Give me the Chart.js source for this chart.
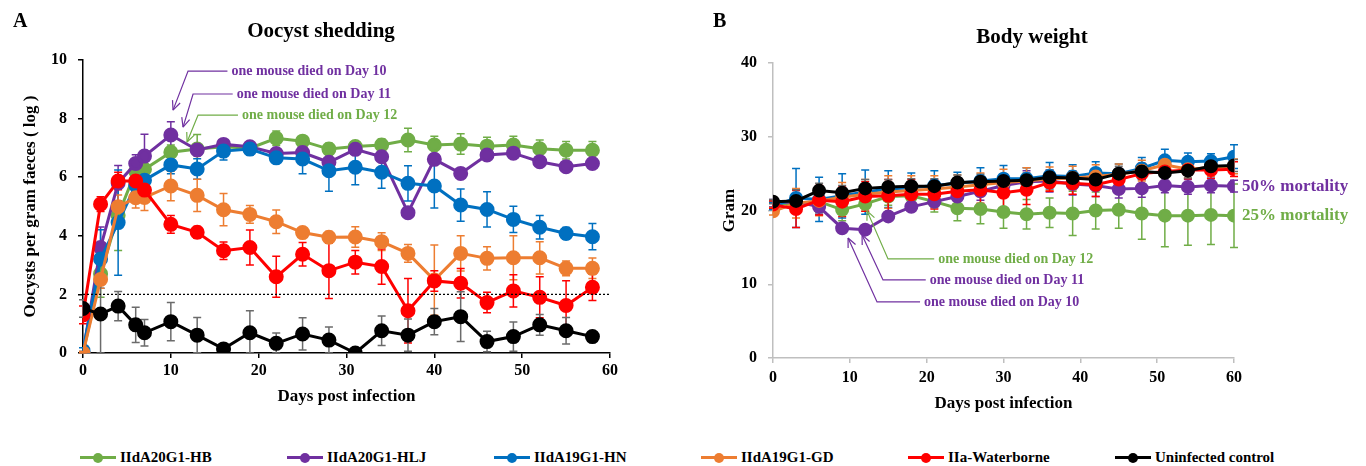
<!DOCTYPE html>
<html>
<head>
<meta charset="utf-8">
<script src="https://cdn.jsdelivr.net/npm/chart.js@4.4.1/dist/chart.umd.min.js"></script>
<style>
  html, body { margin: 0; padding: 0; background: #fff; }
  #wrap { position: relative; width: 1366px; height: 466px; overflow: hidden; font-family: "Liberation Serif", "Times New Roman", serif; }
  #cA { position: absolute; left: 0; top: 0; }
  #cB { position: absolute; left: 690px; top: 0; }
  #legend { position: absolute; left: 80px; top: 449px; display: flex; }
  .item { width: 207px; display: flex; align-items: center; font-weight: bold; font-size: 15px; color: #000; }
  .mk { position: relative; width: 36px; height: 12px; margin-right: 4px; }
  .mk .ln { position: absolute; left: 0; right: 0; top: 4.5px; height: 3px; }
  .mk .dt { position: absolute; left: 13px; top: 1px; width: 10px; height: 10px; border-radius: 50%; }
</style>
</head>
<body>
<div id="wrap">
  <canvas id="cA" width="690" height="430"></canvas>
  <canvas id="cB" width="676" height="430"></canvas>
  <div id="legend"></div>
</div>
<script>
(function () {
  // ---- data: panel A (oocyst shedding, log OPG) ----
  var DAYS_A = [0, 2, 4, 6, 7, 10, 13, 16, 19, 22, 25, 28, 31, 34, 37, 40, 43, 46, 49, 52, 55, 58];
  var HB_A = [0, 2.7, 4.7, 6.2, 6.27, 6.85, 6.96, 7.04, 6.99, 7.33, 7.23, 6.96, 7.05, 7.1, 7.27, 7.1, 7.13, 7.06, 7.1, 6.97, 6.92, 6.92];
  var HB_A_ERR = [0.05, 0.8, 1.2, 0.3, 0.3, 0.25, 0.5, 0.15, 0.15, 0.25, 0.1, 0.2, 0.1, 0.2, 0.4, 0.3, 0.35, 0.3, 0.3, 0.3, 0.3, 0.3];
  var HLJ_A = [0, 3.6, 5.8, 6.47, 6.72, 7.44, 6.93, 7.12, 7.04, 6.81, 6.84, 6.51, 6.95, 6.7, 4.79, 6.61, 6.13, 6.76, 6.82, 6.53, 6.36, 6.47];
  var HLJ_A_ERR = [0.05, 0.7, 0.6, 0.3, 0.75, 0.45, 0.2, 0.1, 0.1, 0.1, 0.1, 0.15, 0.1, 0.1, 0.05, 0.1, 0.1, 0.1, 0.1, 0.1, 0.1, 0.1];
  var HN_A = [0.08, 3.21, 4.45, 5.73, 5.9, 6.42, 6.28, 6.89, 6.96, 6.66, 6.62, 6.22, 6.34, 6.17, 5.79, 5.7, 5.05, 4.9, 4.56, 4.29, 4.08, 3.97];
  var HN_A_ERR = [0.1, 1.0, 1.8, 0.3, 0.3, 0.3, 0.35, 0.3, 0.2, 0.15, 0.5, 0.7, 0.6, 0.55, 0.6, 0.75, 0.55, 0.6, 0.45, 0.4, 0.2, 0.45];
  var GD_A = [0, 2.51, 4.99, 5.3, 5.31, 5.7, 5.38, 4.89, 4.73, 4.48, 4.11, 3.95, 3.96, 3.8, 3.4, 2.49, 3.4, 3.23, 3.25, 3.25, 2.89, 2.89];
  var GD_A_ERR = [0.05, 0.3, 0.4, 0.35, 0.45, 0.5, 0.55, 0.55, 0.3, 0.4, 0.1, 0.2, 0.35, 0.3, 0.3, 1.2, 0.6, 0.4, 0.75, 0.55, 0.25, 0.35];
  var WB_A = [1.3, 5.08, 5.87, 5.87, 5.56, 4.39, 4.12, 3.49, 3.6, 2.6, 3.37, 2.81, 3.1, 2.95, 1.44, 2.46, 2.38, 1.72, 2.12, 1.9, 1.62, 2.24];
  var WB_A_ERR = [0.3, 0.25, 0.3, 0.3, 0.35, 0.3, 0.2, 0.3, 0.6, 0.7, 0.4, 0.95, 0.4, 0.6, 1.1, 0.35, 0.5, 0.35, 0.55, 0.7, 0.85, 0.45];
  var CTRL_A = [1.52, 1.33, 1.6, 0.96, 0.69, 1.07, 0.61, 0.14, 0.69, 0.33, 0.65, 0.44, 0.0, 0.76, 0.61, 1.07, 1.24, 0.39, 0.56, 0.96, 0.76, 0.56];
  var CTRL_A_ERR = [0.3, 1.4, 0.5, 0.6, 0.45, 0.65, 0.6, 0.05, 0.75, 0.35, 0.55, 0.45, 0, 0.5, 0.55, 0.45, 0.85, 0.35, 0.5, 0.35, 0.45, 0.15];
  var THRESHOLD_A = 2;

  // ---- data: panel B (body weight, g) ----
  var DAYS_B = [0, 3, 6, 9, 12, 15, 18, 21, 24, 27, 30, 33, 36, 39, 42, 45, 48, 51, 54, 57, 60];
  var HB_B = [20.8, 21.0, 21.2, 20.1, 20.9, 21.9, 22.0, 21.2, 20.3, 20.2, 19.8, 19.5, 19.7, 19.6, 20.0, 20.1, 19.6, 19.3, 19.3, 19.4, 19.3];
  var HB_B_ERR = [0.5, 1.2, 1.5, 1.5, 1.0, 1.2, 1.3, 1.4, 1.7, 2.0, 2.2, 2.0, 2.0, 3.0, 2.5, 2.5, 3.5, 4.2, 4.0, 4.0, 4.3];
  var HLJ_B = [21.0, 21.2, 20.5, 17.6, 17.4, 19.2, 20.5, 21.2, 21.9, 22.6, 23.4, 23.9, 24.0, 23.6, 23.4, 22.9, 23.0, 23.4, 23.2, 23.4, 23.3];
  var HLJ_B_ERR = [0.5, 1.0, 1.0, 0.6, 0.4, 0.5, 0.6, 0.8, 1.0, 1.2, 1.5, 1.5, 1.5, 1.5, 1.5, 1.2, 1.2, 1.0, 1.0, 1.0, 0.8];
  var HN_B = [20.6, 21.7, 21.5, 22.0, 22.5, 22.9, 23.1, 23.4, 23.7, 24.0, 24.3, 24.3, 24.7, 24.6, 25.1, 25.0, 25.7, 26.8, 26.6, 26.7, 27.3];
  var HN_B_ERR = [0.5, 4.0, 3.0, 3.0, 3.0, 2.5, 2.0, 2.0, 1.5, 1.8, 1.8, 1.5, 1.8, 1.6, 1.5, 1.3, 1.5, 1.5, 1.2, 1.0, 1.6];
  var GD_B = [19.9, 21.0, 21.3, 21.8, 22.2, 22.5, 22.7, 22.9, 23.2, 23.5, 23.8, 24.0, 24.3, 24.4, 24.6, 24.9, 25.4, 26.2, 25.6, 25.8, 26.0];
  var GD_B_ERR = [0.5, 2.0, 2.0, 2.0, 2.0, 2.2, 2.0, 1.8, 1.6, 1.6, 1.8, 1.8, 1.6, 1.6, 1.6, 1.4, 1.4, 1.2, 1.2, 1.2, 1.0];
  var WB_B = [20.8, 20.2, 21.4, 21.2, 21.9, 22.0, 22.2, 22.2, 22.6, 22.8, 22.4, 22.8, 23.8, 23.7, 23.5, 24.2, 25.0, 25.3, 25.5, 25.5, 25.6];
  var WB_B_ERR = [0.5, 2.5, 2.0, 2.0, 2.0, 2.2, 2.0, 2.0, 1.8, 1.8, 2.2, 2.0, 1.2, 1.5, 1.6, 1.5, 1.4, 1.4, 1.2, 1.2, 1.0];
  var CTRL_B = [21.2, 21.3, 22.7, 22.4, 23.0, 23.2, 23.3, 23.3, 23.8, 23.9, 24.0, 24.1, 24.5, 24.4, 24.2, 25.0, 25.3, 25.1, 25.4, 26.0, 26.1];
  var CTRL_B_ERR = [0.3, 1.5, 1.0, 1.0, 1.2, 1.0, 1.0, 1.0, 1.0, 1.0, 1.0, 1.0, 1.0, 1.0, 1.0, 1.0, 1.0, 1.0, 1.0, 0.8, 0.8];

  var SERIES = ['IIdA20G1-HB', 'IIdA20G1-HLJ', 'IIdA19G1-HN', 'IIdA19G1-GD', 'IIa-Waterborne', 'Uninfected control'];
  var COLORS = ['#70ad47', '#7030a0', '#0070c0', '#ed7d31', '#ff0000', '#000000'];
  var ERR_COLORS = ['#70ad47', '#7030a0', '#0070c0', '#ed7d31', '#ff0000', '#6b6b6b'];
  var X_TICKS = [0, 10, 20, 30, 40, 50, 60];
  var Y_TICKS_A = [0, 2, 4, 6, 8, 10];
  var Y_TICKS_B = [0, 10, 20, 30, 40];

  var FONT = '"Liberation Serif", "Times New Roman", serif';

  function pts(days, vals) {
    return days.map(function (d, i) { return { x: d, y: vals[i] }; });
  }

  function buildSets(days, vals, errs, radius) {
    return vals.map(function (v, i) {
      return {
        label: SERIES[i],
        data: pts(days, v),
        errors: errs[i],
        errorColor: ERR_COLORS[i],
        borderColor: COLORS[i],
        backgroundColor: COLORS[i],
        pointBackgroundColor: COLORS[i],
        pointBorderColor: COLORS[i],
        pointRadius: radius,
        borderWidth: 3,
        tension: 0,
        order: SERIES.length - i
      };
    });
  }

  // error bars drawn through the chart's own scales
  var errorBars = {
    id: 'errorBars',
    beforeDatasetsDraw: function (chart) {
      var ctx = chart.ctx, xs = chart.scales.x, ys = chart.scales.y;
      ctx.save();
      ctx.lineWidth = 1.5;
      chart.data.datasets.forEach(function (ds) {
        if (!ds.errors) return;
        ctx.strokeStyle = ds.errorColor;
        ds.data.forEach(function (p, i) {
          var e = ds.errors[i];
          if (!e) return;
          var x = xs.getPixelForValue(p.x);
          var top = ys.getPixelForValue(p.y + e);
          var bot = ys.getPixelForValue(Math.max(p.y - e, ys.min));
          ctx.beginPath();
          ctx.moveTo(x, top); ctx.lineTo(x, bot);
          ctx.moveTo(x - 4, top); ctx.lineTo(x + 4, top);
          ctx.moveTo(x - 4, bot); ctx.lineTo(x + 4, bot);
          ctx.stroke();
        });
      });
      ctx.restore();
    }
  };

  var notes = {
    id: 'notes',
    afterDatasetsDraw: function (chart, args, o) {
      var ctx = chart.ctx, xs = chart.scales.x, ys = chart.scales.y, a = chart.chartArea;
      ctx.save();
      if (o.refLine !== undefined) {
        var yy = ys.getPixelForValue(o.refLine);
        ctx.strokeStyle = '#000'; ctx.lineWidth = 1.3; ctx.setLineDash([2, 2]);
        ctx.beginPath(); ctx.moveTo(a.left, yy); ctx.lineTo(a.right, yy); ctx.stroke();
        ctx.setLineDash([]);
      }
      (o.arrows || []).forEach(function (n) {
        var tx = xs.getPixelForValue(n.tip[0]), ty = ys.getPixelForValue(n.tip[1]);
        var kx = xs.getPixelForValue(n.knee[0]), ky = ys.getPixelForValue(n.knee[1]);
        var sx = xs.getPixelForValue(n.textAt);
        ctx.strokeStyle = n.color; ctx.fillStyle = n.color; ctx.lineWidth = 1.2;
        ctx.beginPath(); ctx.moveTo(sx - 4, ky); ctx.lineTo(kx, ky); ctx.lineTo(tx, ty); ctx.stroke();
        var ang = Math.atan2(ty - ky, tx - kx);
        ctx.beginPath();
        [0.42, -0.42].forEach(function (d) {
          ctx.moveTo(tx, ty);
          ctx.lineTo(tx - 10 * Math.cos(ang + d), ty - 10 * Math.sin(ang + d));
        });
        ctx.stroke();
        ctx.font = 'bold 14px ' + FONT;
        ctx.textAlign = 'left'; ctx.textBaseline = 'middle';
        ctx.fillText(n.text, sx, ky);
      });
      (o.endLabels || []).forEach(function (l) {
        var ds = chart.data.datasets[l.series];
        var last = ds.data[ds.data.length - 1];
        ctx.font = 'bold 17px ' + FONT;
        ctx.fillStyle = COLORS[l.series];
        ctx.textAlign = 'left'; ctx.textBaseline = 'middle';
        ctx.fillText(l.text, xs.getPixelForValue(last.x) + 8, ys.getPixelForValue(last.y));
      });
      ctx.fillStyle = '#000';
      ctx.textBaseline = 'middle';
      ctx.font = 'bold 20px ' + FONT;
      ctx.textAlign = 'left';
      ctx.fillText(o.letter.text, o.letter.x, o.letter.y);
      ctx.font = 'bold 21px ' + FONT;
      ctx.textAlign = 'center';
      ctx.fillText(o.title.text, o.title.x, o.title.y);
      ctx.restore();
    }
  };

  function makeChart(id, cfg) {
    var axisCol = cfg.axisColor;
    return new Chart(document.getElementById(id), {
      type: 'line',
      data: { datasets: cfg.datasets },
      plugins: [errorBars, notes],
      options: {
        responsive: false,
        animation: false,
        layout: { padding: cfg.padding },
        plugins: { legend: { display: false }, tooltip: { enabled: false }, notes: cfg.notes },
        scales: {
          x: {
            type: 'linear', min: 0, max: 60,
            afterBuildTicks: function (s) { s.ticks = X_TICKS.map(function (v) { return { value: v }; }); },
            afterFit: function (s) { s.height = cfg.xHeight; },
            grid: { drawOnChartArea: false, drawTicks: true, tickLength: 5, color: axisCol, lineWidth: 1.5 },
            border: { color: axisCol, width: 1.5 },
            ticks: { color: '#000', padding: cfg.xTickPad, maxRotation: 0, font: { family: FONT, size: 16, weight: 'bold' } },
            title: { display: true, text: 'Days post infection', color: '#000', font: { family: FONT, size: 17, weight: 'bold' } }
          },
          y: {
            min: 0, max: cfg.yMax,
            afterBuildTicks: function (s) { s.ticks = cfg.yTicks.map(function (v) { return { value: v }; }); },
            afterFit: function (s) { s.width = cfg.yWidth; },
            grid: { drawOnChartArea: false, drawTicks: true, tickLength: 5, color: axisCol, lineWidth: 1.5 },
            border: { color: axisCol, width: 1.5 },
            ticks: { color: '#000', padding: 11, font: { family: FONT, size: 16, weight: 'bold' } },
            title: { display: true, text: cfg.yTitle, color: '#000', font: { family: FONT, size: 17, weight: 'bold' } }
          }
        }
      }
    });
  }

  makeChart('cA', {
    datasets: buildSets(DAYS_A, [HB_A, HLJ_A, HN_A, GD_A, WB_A, CTRL_A],
      [HB_A_ERR, HLJ_A_ERR, HN_A_ERR, GD_A_ERR, WB_A_ERR, CTRL_A_ERR], 6),
    padding: { left: 16, right: 80, top: 60, bottom: 19 },
    yWidth: 67, xHeight: 58, xTickPad: 3,
    yMax: 10, yTicks: Y_TICKS_A, axisColor: '#000',
    yTitle: 'Oocysts per gram faeces ( log )',
    notes: {
      refLine: THRESHOLD_A,
      letter: { text: 'A', x: 13, y: 22 },
      title: { text: 'Oocyst shedding', x: 321, y: 32 },
      arrows: [
        { text: 'one mouse died on Day 10', color: '#7030a0', tip: [10.25, 8.29], knee: [11.96, 9.62], textAt: 16.9 },
        { text: 'one mouse died on Day 11', color: '#7030a0', tip: [11.39, 7.71], knee: [12.53, 8.84], textAt: 17.5 },
        { text: 'one mouse died on Day 12', color: '#70ad47', tip: [11.85, 7.2], knee: [13.1, 8.12], textAt: 18.1 }
      ]
    }
  });

  makeChart('cB', {
    datasets: buildSets(DAYS_B, [HB_B, HLJ_B, HN_B, GD_B, WB_B, CTRL_B],
      [HB_B_ERR, HLJ_B_ERR, HN_B_ERR, GD_B_ERR, WB_B_ERR, CTRL_B_ERR], 5.5),
    padding: { left: 25, right: 132, top: 63, bottom: 12 },
    yWidth: 58, xHeight: 60, xTickPad: 5,
    yMax: 40, yTicks: Y_TICKS_B, axisColor: '#bfbfbf',
    yTitle: 'Gram',
    notes: {
      letter: { text: 'B', x: 23, y: 22 },
      title: { text: 'Body weight', x: 342, y: 38 },
      arrows: [
        { text: 'one mouse died on Day 12', color: '#70ad47', tip: [12.24, 19.95], knee: [14.97, 13.43], textAt: 21.5 },
        { text: 'one mouse died on Day 11', color: '#7030a0', tip: [11.59, 16.69], knee: [14.32, 10.58], textAt: 20.4 },
        { text: 'one mouse died on Day 10', color: '#7030a0', tip: [9.77, 16.28], knee: [13.54, 7.6], textAt: 19.66 }
      ],
      endLabels: [
        { series: 1, text: '50% mortality' },
        { series: 0, text: '25% mortality' }
      ]
    }
  });

  var legend = document.getElementById('legend');
  SERIES.forEach(function (name, i) {
    var item = document.createElement('div');
    item.className = 'item';
    item.innerHTML = '<span class="mk"><span class="ln" style="background:' + COLORS[i] + '"></span>' +
      '<span class="dt" style="background:' + COLORS[i] + '"></span></span><span>' + name + '</span>';
    legend.appendChild(item);
  });
})();
</script>
</body>
</html>
